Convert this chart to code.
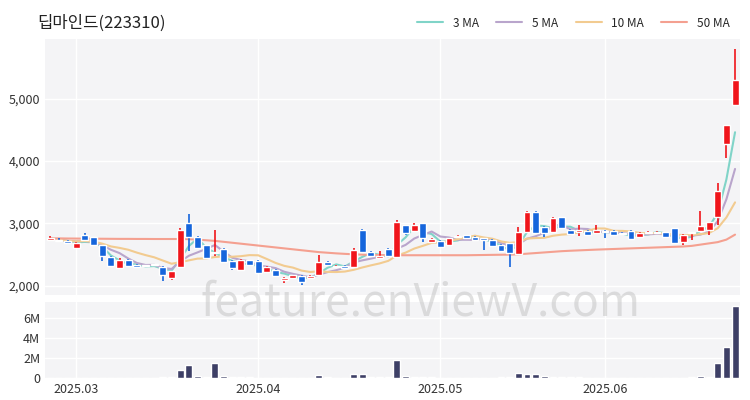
import numpy as np, pandas as pd, matplotlib
matplotlib.use("Agg")
import matplotlib.pyplot as plt, seaborn as sns

opens  = [2740,2740,2720,2610,2820,2780,2650,2460,2280,2420,2340,2330,2330,2300,2130,2300,3000,2790,2650,2520,
          2590,2400,2250,2410,2400,2220,2260,2100,2120,2160,2130,2170,2380,2300,2320,2300,2900,2540,2450,2590,
          2460,2970,2880,3000,2700,2720,2650,2780,2810,2790,2760,2740,2660,2680,2510,2860,3190,2950,2860,3100,
          2900,2870,2880,2840,2880,2880,2850,2880,2790,2840,2850,2860,2920,2700,2840,2880,2890,3100,4270,4900]
closes = [2760,2720,2680,2690,2740,2660,2480,2320,2420,2310,2300,2320,2330,2170,2230,2900,2780,2600,2450,2540,
          2380,2280,2420,2340,2200,2300,2160,2130,2170,2060,2160,2380,2330,2320,2280,2570,2540,2470,2480,2470,
          3020,2840,2980,2760,2750,2620,2760,2800,2760,2740,2740,2640,2550,2520,2870,3190,2840,2840,3090,2920,
          2830,2900,2810,2900,2860,2820,2830,2750,2850,2870,2870,2780,2680,2820,2860,2960,3020,3520,4570,5290]
highs  = [2800,2770,2740,2700,2850,2790,2660,2470,2440,2430,2350,2340,2340,2310,2240,2920,3150,2800,2660,2900,
          2600,2410,2430,2420,2410,2310,2270,2140,2180,2170,2170,2500,2390,2330,2330,2600,2910,2550,2550,2600,
          3060,2980,3000,3010,2760,2730,2770,2820,2820,2800,2770,2750,2670,2690,2940,3200,3200,2960,3100,3110,
          2910,2980,2890,2980,2890,2890,2860,2890,2860,2880,2880,2870,2930,2830,2870,3200,3030,3650,4580,5790]
lows   = [2720,2710,2670,2600,2730,2650,2400,2300,2270,2300,2290,2310,2320,2080,2090,2280,2560,2590,2440,2480,
          2370,2250,2240,2330,2190,2210,2150,2040,2110,2010,2120,2150,2320,2290,2270,2290,2530,2460,2440,2460,
          2450,2810,2870,2710,2690,2610,2640,2770,2750,2730,2580,2630,2540,2300,2500,2850,2830,2780,2850,2910,
          2820,2800,2800,2830,2760,2810,2820,2740,2780,2830,2840,2770,2670,2650,2740,2870,2820,2980,4050,4880]
volume = [0.05,0.04,0.04,0.05,0.05,0.04,0.03,0.03,0.04,0.03,0.02,0.02,0.02,0.08,0.06,0.85,1.35,0.25,0.15,1.55,
          0.2,0.1,0.1,0.08,0.05,0.05,0.04,0.04,0.03,0.04,0.04,0.3,0.08,0.05,0.05,0.45,0.45,0.15,0.1,0.08,
          1.85,0.25,0.15,0.12,0.06,0.05,0.04,0.04,0.03,0.03,0.03,0.04,0.06,0.1,0.5,0.4,0.45,0.25,0.15,0.12,
          0.08,0.06,0.05,0.05,0.04,0.04,0.03,0.04,0.04,0.03,0.03,0.04,0.05,0.05,0.06,0.25,0.1,1.5,3.15,7.2]
ma50 = [2760,2760,2758,2757,2756,2755,2754,2753,2752,2752,2751,2751,2750,2750,2750,2750,2748,2740,2730,2720,
        2705,2690,2675,2660,2645,2630,2615,2600,2585,2570,2555,2540,2530,2520,2512,2505,2500,2495,2492,2490,
        2490,2490,2490,2490,2490,2490,2490,2490,2490,2492,2494,2496,2498,2500,2505,2515,2525,2535,2545,2555,
        2562,2568,2574,2580,2585,2590,2595,2600,2605,2610,2615,2620,2625,2630,2640,2660,2680,2700,2740,2820]
tick_pos = [3, 24, 45, 64]
tick_labels = ["2025.03", "2025.04", "2025.05", "2025.06"]

df = pd.DataFrame(dict(o=opens, c=closes, h=highs, l=lows, v=volume))
df["i"] = np.arange(len(df))
df["ma3"] = df.c.rolling(3, min_periods=1).mean()
df["ma5"] = df.c.rolling(5, min_periods=1).mean()
df["ma10"] = df.c.rolling(10, min_periods=1).mean()
df["ma50"] = ma50

sns.set_theme(style="white")
plt.rcParams['font.family'] = ['Noto Sans CJK KR', 'DejaVu Sans']
fig = plt.figure(figsize=(7.5, 4), dpi=100)
bg = "#f4f4f6"
ax = fig.add_axes([0.06, 0.262, 0.927, 0.64])
axv = fig.add_axes([0.06, 0.055, 0.927, 0.19])
for a in (ax, axv):
    a.set_facecolor(bg)
    for s in a.spines.values(): s.set_visible(False)
    a.grid(True, axis="both", color="white", lw=1)
    a.set_xlim(-0.6, len(df) - 0.4)
    a.tick_params(length=0, labelsize=9, colors="#333333")

colors = {"ma3": "#80d4c8", "ma5": "#b9a5cc", "ma10": "#f2cb90", "ma50": "#f4a090"}
names = {"ma3": "3 MA", "ma5": "5 MA", "ma10": "10 MA", "ma50": "50 MA"}
for k in ["ma3", "ma5", "ma10", "ma50"]:
    sns.lineplot(data=df, x="i", y=k, ax=ax, color=colors[k], lw=1.5, label=names[k])

up = df.c >= df.o
col = np.where(up, "#f0151b", "#1565dc")
ax.vlines(df.i, df.l, df.h, color=col, lw=1.2, zorder=3)
ax.bar(df.i, (df.c - df.o).abs().clip(lower=15), bottom=np.minimum(df.o, df.c), width=0.8, color=col, zorder=4)
ax.set_ylim(1850, 5950)
ax.set_yticks([2000, 3000, 4000, 5000])
ax.set_yticklabels(["2,000", "3,000", "4,000", "5,000"])
ax.set_xticks(tick_pos); ax.set_xticklabels([])
ax.set_xlabel(""); ax.set_ylabel("")
ax.legend(loc="upper right", bbox_to_anchor=(1.0, 1.13), ncol=4, frameon=False, fontsize=8.5,
          handlelength=2.2, columnspacing=1.5)

axv.bar(df.i, df.v * 1e6, width=0.8, color="#3d3f66")
axv.set_ylim(0, 7.6e6)
axv.set_yticks([0, 2e6, 4e6, 6e6]); axv.set_yticklabels(["0", "2M", "4M", "6M"])
axv.set_xticks(tick_pos); axv.set_xticklabels(tick_labels)

fig.text(0.05, 0.93, "딥마인드(223310)", fontsize=12, color="#222222")
fig.text(0.56, 0.245, "feature.enViewV.com", fontsize=32, color="#bbbbbb", alpha=0.45, ha="center", va="center")
fig.savefig("out.png", dpi=100)
